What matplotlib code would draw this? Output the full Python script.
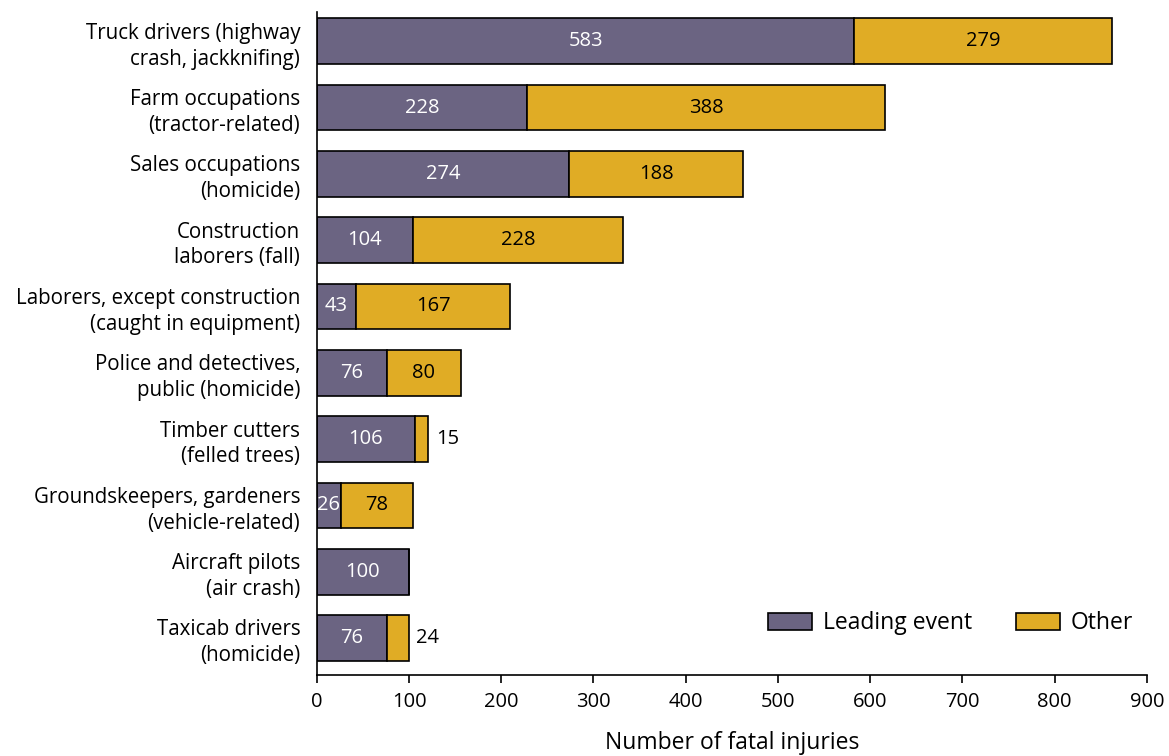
import numpy as np
import matplotlib.pyplot as plt

plt.rcParams['font.family'] = ['Open Sans', 'DejaVu Sans']

categories = [
    "Truck drivers (highway\ncrash, jackknifing)",
    "Farm occupations\n(tractor-related)",
    "Sales occupations\n(homicide)",
    "Construction\nlaborers (fall)",
    "Laborers, except construction\n(caught in equipment)",
    "Police and detectives,\npublic (homicide)",
    "Timber cutters\n(felled trees)",
    "Groundskeepers, gardeners\n(vehicle-related)",
    "Aircraft pilots\n(air crash)",
    "Taxicab drivers\n(homicide)",
]
leading = [583, 228, 274, 104, 43, 76, 106, 26, 100, 76]
other = [279, 388, 188, 228, 167, 80, 15, 78, 0, 24]
xticks = [0, 100, 200, 300, 400, 500, 600, 700, 800, 900]

purple = '#6B6482'
gold = '#E0AC25'

fig = plt.figure(figsize=(11.69, 7.56), dpi=100)
ax = fig.add_axes([0.271, 0.107, 0.71, 0.877])

y = np.arange(len(categories))
h = 0.69
ax.barh(y, leading, height=h, color=purple, edgecolor='black', linewidth=1.2, label='Leading event')
ax.barh(y, other, left=leading, height=h, color=gold, edgecolor='black', linewidth=1.2, label='Other')

fs = 14.5
for i in range(len(y)):
    ax.text(leading[i] / 2, y[i], str(leading[i]), color='white', ha='center', va='center', fontsize=fs)
    if other[i] > 0:
        if other[i] < 40:
            ax.text(leading[i] + other[i] + 8, y[i], str(other[i]), color='black', ha='left', va='center', fontsize=fs)
        else:
            ax.text(leading[i] + other[i] / 2, y[i], str(other[i]), color='black', ha='center', va='center', fontsize=fs)

ax.set_ylim(9.56, -0.44)
ax.set_xlim(0, 900)
ax.set_yticks(y)
ax.set_yticklabels(categories, fontsize=14.8, linespacing=1.3)
ax.tick_params(axis='y', length=0, pad=12)
ax.set_xticks(xticks)
ax.tick_params(axis='x', labelsize=14.5, length=6, width=1.2, pad=6)
ax.spines['top'].set_visible(False)
ax.spines['right'].set_visible(False)
ax.spines['left'].set_linewidth(1.2)
ax.spines['bottom'].set_linewidth(1.2)
ax.set_xlabel('Number of fatal injuries', fontsize=16.5, labelpad=14)

ax.legend(loc='center right', ncol=2, frameon=False, fontsize=16.5, handlelength=1.9,
          handleheight=0.8, handletextpad=0.5, columnspacing=1.9, borderaxespad=0,
          bbox_to_anchor=(0.995, 0.078))

fig.savefig('out.png', dpi=100)
